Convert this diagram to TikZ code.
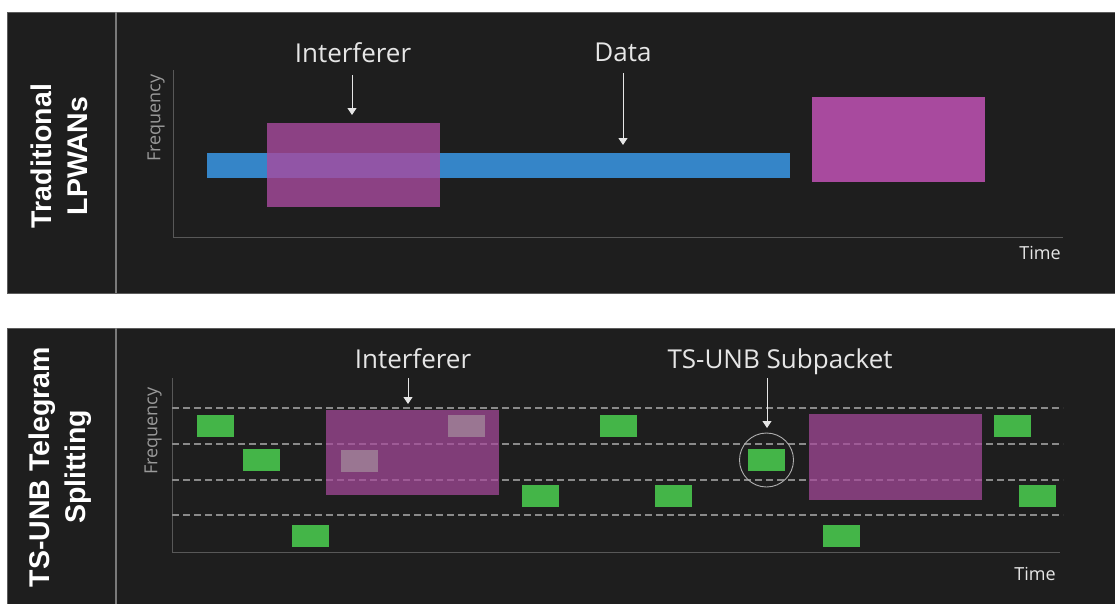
\documentclass[tikz,border=0pt]{standalone}
\usepackage{fontspec}
\setmainfont{Open Sans}
\newfontfamily\titlefont{Liberation Sans}
\usetikzlibrary{arrows.meta}

\definecolor{panelbg}{HTML}{1E1E1E}
\definecolor{paneledge}{HTML}{5C5C5C}
\definecolor{divider}{HTML}{7A7A7A}
\definecolor{axisgray}{HTML}{585858}
\definecolor{labelwhite}{HTML}{E6E6E6}
\definecolor{freqgray}{HTML}{9A9A9A}
\definecolor{databar}{HTML}{3585C8}
\definecolor{jammer}{HTML}{A84A9E}
\definecolor{jammerdark}{HTML}{A64A9C}
\definecolor{packet}{HTML}{44B548}
\definecolor{lostpacket}{HTML}{9A7692}
\definecolor{gridgray}{HTML}{8A8A8A}

\tikzset{
  paneltitle/.style={font=\titlefont\bfseries\fontsize{28.5}{36}\selectfont, text=white, rotate=90, align=center, inner sep=0pt},
  callout/.style={font=\fontsize{26}{30}\selectfont, text=labelwhite, inner sep=0pt, anchor=base},
  axisname/.style={font=\fontsize{18}{20}\selectfont, text=freqgray, rotate=90, inner sep=0pt},
  timename/.style={font=\fontsize{18}{20}\selectfont, text=labelwhite, inner sep=0pt, anchor=base},
  axisline/.style={draw=axisgray, line width=1pt},
  pointer/.style={draw=labelwhite, line width=0.8pt, -{Triangle[width=9pt,length=7pt]}},
  slot/.style={draw=gridgray, line width=1.5pt, dash pattern=on 7pt off 4pt},
  block/.style={rectangle, inner sep=0pt, outer sep=0pt, anchor=north west},
  subpkt/.style={block, fill=packet, minimum width=37pt, minimum height=22pt},
  lostpkt/.style={block, fill=lostpacket, minimum width=37pt, minimum height=22pt},
}

\begin{document}
\begin{tikzpicture}[x=1pt,y=-1pt]
\useasboundingbox (0,0) rectangle (1115,603);
\fill[white] (0,0) rectangle (1115,603);

% ---------- upper panel: conventional LPWAN ----------
\draw[draw=paneledge, fill=panelbg, line width=1pt] (7,12) rectangle (1118,293);
\draw[divider, line width=1.2pt] (116,12) -- (116,293);
\node[paneltitle] (title1) at (59,156) {Traditional\\LPWANs};

\coordinate (o1) at (173,237);
\coordinate (ytop1) at (173,70);
\coordinate (xend1) at (1063,237);
\draw[axisline] (ytop1) -- (o1) -- (xend1);
\node[axisname] (freq1) at (156,118) {Frequency};
\node[timename] (time1) at (1040,259) {Time};

\node[block, fill=databar, minimum width=583pt, minimum height=25pt] (data) at (207,153) {};
\node[block, fill=jammer, fill opacity=0.8, minimum width=173pt, minimum height=84pt] (jam1) at (267,123) {};
\node[block, fill=jammer, minimum width=173pt, minimum height=85pt] (jam2) at (812,97) {};

\node[callout] (lblint1) at (353,62) {Interferer};
\node[callout] (lbldata) at (623,61) {Data};
\coordinate (a1s) at (352,75);
\coordinate (a1e) at (352,115);
\coordinate (a2s) at (623,73);
\coordinate (a2e) at (623,145);
\draw[pointer] (a1s) -- (a1e);
\draw[pointer] (a2s) -- (a2e);

% ---------- lower panel: telegram splitting ----------
\draw[draw=paneledge, fill=panelbg, line width=1pt] (7,328) rectangle (1118,606);
\draw[divider, line width=1.2pt] (116,328) -- (116,606);
\node[paneltitle] (title2) at (60,467) {TS-UNB Telegram\\Splitting};

\coordinate (o2) at (172,552);
\coordinate (ytop2) at (172,378);
\coordinate (xend2) at (1060,552);
\draw[axisline] (ytop2) -- (o2) -- (xend2);
\node[axisname] (freq2) at (153,431) {Frequency};
\node[timename] (time2) at (1035,580) {Time};

% frequency channels
\foreach \yy in {408,444,480,515}
  \draw[slot] (172,\yy) -- (1063,\yy);

% subpackets hopping across channels
\node[subpkt] (p1)  at (197,415) {};
\node[subpkt] (p2)  at (243,449) {};
\node[subpkt] (p3)  at (292,525) {};
\node[subpkt] (p4)  at (522,485) {};
\node[subpkt] (p5)  at (600,415) {};
\node[subpkt] (p6)  at (655,485) {};
\node[subpkt] (p7)  at (748,449) {};
\node[subpkt] (p8)  at (823,525) {};
\node[subpkt] (p9)  at (994,415) {};
\node[subpkt] (p10) at (1019,485) {};

% interferers
\node[block, fill=jammerdark, fill opacity=0.72, minimum width=173pt, minimum height=85pt] (jam3) at (326,410) {};
\node[block, fill=jammerdark, fill opacity=0.72, minimum width=173pt, minimum height=86pt] (jam4) at (809,414) {};

% subpackets hit by the interferer
\node[lostpkt] (l1) at (341,450) {};
\node[lostpkt] (l2) at (448,415) {};

\node[circle, draw=freqgray!80!white, line width=0.9pt, minimum size=54pt, inner sep=0pt] (ring) at (p7.center) {};

\node[callout] (lblint2) at (413,368) {Interferer};
\node[callout] (lblsub) at (780,368) {TS-UNB Subpacket};
\coordinate (a3s) at (408,378);
\coordinate (a3e) at (408,404);
\coordinate (a4s) at (767,378);
\coordinate (a4e) at (767,428);
\draw[pointer] (a3s) -- (a3e);
\draw[pointer] (a4s) -- (a4e);
\end{tikzpicture}
\end{document}
